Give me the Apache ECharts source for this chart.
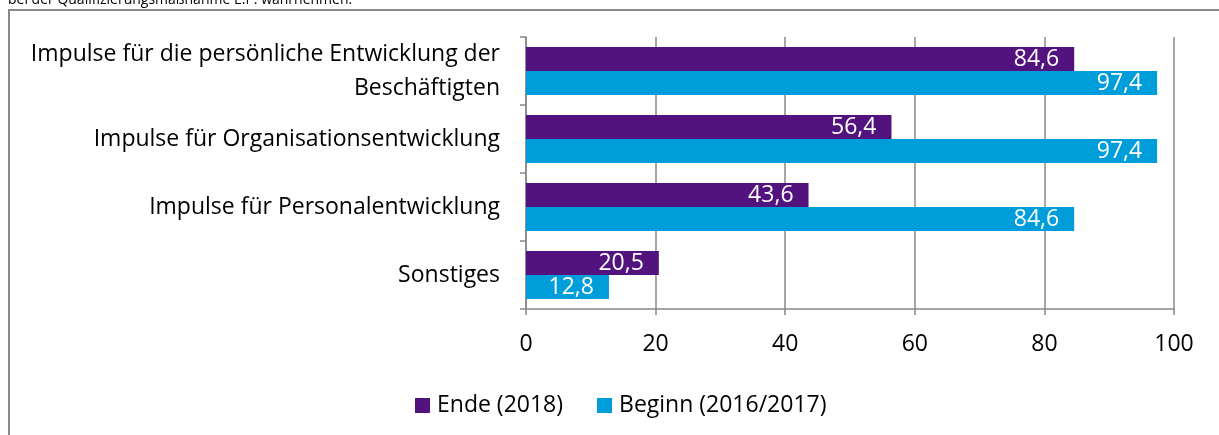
<!DOCTYPE html>
<html>
<head>
<meta charset="utf-8">
<script src="https://cdn.jsdelivr.net/npm/echarts@6/dist/echarts.min.js"></script>
<style>
  html, body { margin: 0; padding: 0; background: #fff; }
  #chart { width: 1219px; height: 435px; }
</style>
</head>
<body>
<div id="chart"></div>
<script>
// Categories, top to bottom
const categories = [
  'Impulse für die persönliche Entwicklung der\nBeschäftigten',
  'Impulse für Organisationsentwicklung',
  'Impulse für Personalentwicklung',
  'Sonstiges'
];
const seriesNames = ['Ende (2018)', 'Beginn (2016/2017)'];
const endeValues = [84.6, 56.4, 43.6, 20.5];
const beginnValues = [97.4, 97.4, 84.6, 12.8];
const xTicks = [0, 20, 40, 60, 80, 100];
const headerText = 'bei der Qualifizierungsmaßnahme E.P. wahrnehmen.';

const FONT = 'Open Sans';
const FS = 23;
const PURPLE = '#53137F';
const BLUE = '#009DDB';
const GRID_GRAY = '#888888';

const chart = echarts.init(document.getElementById('chart'), null, { renderer: 'canvas' });

const labelFmt = p => String(p.value).replace('.', ',');

chart.setOption({
  animation: false,
  textStyle: { fontFamily: FONT },
  graphic: [
    {
      type: 'rect',
      shape: { x: 9, y: 10, width: 1300, height: 500 },
      style: { fill: 'none', stroke: '#888888', lineWidth: 2 },
      silent: true
    },
    {
      // heading line above the frame, only its lower part is on screen
      type: 'text',
      left: 8,
      top: -7,
      style: { text: headerText, fontFamily: FONT, fontSize: 14, fill: '#000' },
      silent: true
    }
  ],
  legend: {
    data: seriesNames,
    bottom: 13,
    left: 410,
    itemWidth: 15,
    itemHeight: 15,
    itemGap: 34,
    icon: 'rect',
    textStyle: { fontFamily: FONT, fontSize: FS, color: '#000', padding: [0, 0, 0, 2] }
  },
  grid: { left: 526, right: 45, top: 37, bottom: 126, containLabel: false },
  xAxis: {
    type: 'value',
    min: 0,
    max: 100,
    interval: 20,
    axisLine: { show: true, lineStyle: { color: GRID_GRAY, width: 1.5 } },
    axisTick: { show: true, length: 6, lineStyle: { color: GRID_GRAY, width: 1.5 } },
    splitLine: { show: true, lineStyle: { color: GRID_GRAY, width: 1.5 } },
    axisLabel: {
      fontFamily: FONT, fontSize: FS, color: '#000', margin: 24,
      formatter: v => xTicks.includes(v) ? String(v) : ''
    }
  },
  yAxis: {
    type: 'category',
    data: categories,
    inverse: true,
    axisLine: { show: true, lineStyle: { color: GRID_GRAY, width: 1.5 } },
    axisTick: { show: true, length: 6, lineStyle: { color: GRID_GRAY, width: 1.5 } },
    axisLabel: {
      fontFamily: FONT, fontSize: FS, color: '#000', margin: 26,
      align: 'right', lineHeight: 34
    }
  },
  series: [
    {
      name: seriesNames[0],
      type: 'bar',
      data: endeValues,
      barWidth: 24,
      barGap: '0%',
      itemStyle: { color: PURPLE },
      label: {
        show: true, position: 'insideRight', distance: 15,
        color: '#fff', fontFamily: FONT, fontSize: FS, formatter: labelFmt
      }
    },
    {
      name: seriesNames[1],
      type: 'bar',
      data: beginnValues,
      barWidth: 24,
      barGap: '0%',
      itemStyle: { color: BLUE },
      label: {
        show: true, position: 'insideRight', distance: 15,
        color: '#fff', fontFamily: FONT, fontSize: FS, formatter: labelFmt
      }
    }
  ]
});
</script>
</body>
</html>
